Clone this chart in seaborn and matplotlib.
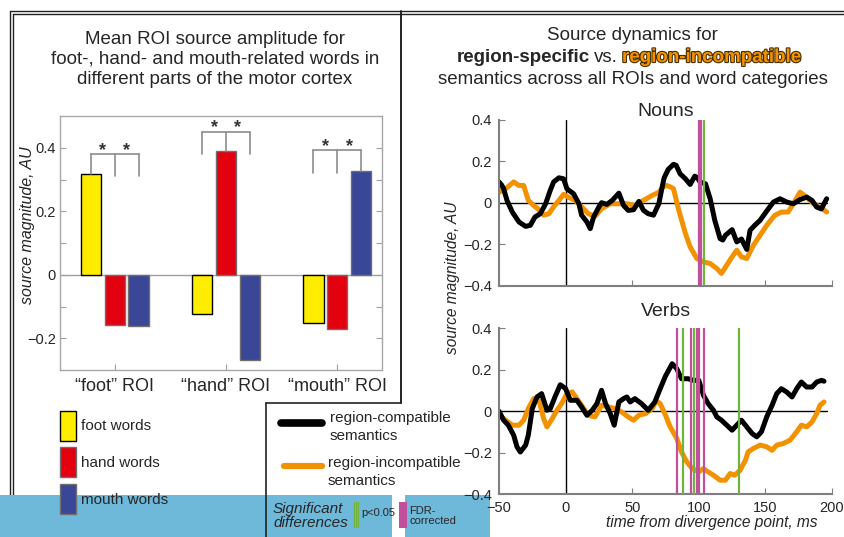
import numpy as np
import pandas as pd
import matplotlib
matplotlib.use('Agg')
import matplotlib.pyplot as plt
import matplotlib.patheffects as pe
from matplotlib.lines import Line2D
from matplotlib.patches import Patch, Rectangle
import seaborn as sns

W, H = 844, 537

# left panel: mean ROI source amplitude
rois = ['\u201cfoot\u201d ROI', '\u201chand\u201d ROI', '\u201cmouth\u201d ROI']
word_types = ['foot words', 'hand words', 'mouth words']
foot_words = [0.318, -0.123, -0.153]
hand_words = [-0.158, 0.390, -0.171]
mouth_words = [-0.160, -0.268, 0.327]
bracket_top = [0.380, 0.450, 0.392]
bar_colors = ['#FFED00', '#E3000F', '#3A4696']

# right panel: nouns
nouns_t_compat = [-50, -48, -46.5, -44, -40, -35, -30, -26.5, -23, -19, -15, -11.5, -9, -5, -1.5,
                  1, 6, 10, 12, 16, 18.5, 21, 25, 27, 31, 35, 40, 43.5, 47, 51, 55, 58.5, 62, 66,
                  70, 72, 74, 77, 81, 83, 86, 90, 93.5, 97, 99, 101, 105, 108.5, 112, 116, 118,
                  120, 125, 128.5, 132, 136, 138.5, 142, 146, 151, 156, 161, 166, 171, 176, 181,
                  185, 188.5, 192, 196]
nouns_compat = [0.10, 0.085, 0.067, 0.011, -0.045, -0.093, -0.114, -0.109, -0.069, -0.053, -0.005,
                0.06, 0.10, 0.12, 0.115, 0.067, 0.043, -0.005, -0.06, -0.093, -0.125, -0.069,
                -0.02, 0.0, -0.008, 0.011, 0.046, -0.013, -0.037, -0.034, 0.006, -0.037, -0.053,
                -0.06, -0.005, 0.06, 0.12, 0.16, 0.185, 0.18, 0.139, 0.115, 0.088, 0.128, 0.12,
                0.10, 0.091, 0.02, -0.085, -0.173, -0.18, -0.157, -0.13, -0.189, -0.175, -0.225,
                -0.133, -0.109, -0.085, -0.04, 0.003, 0.019, 0.003, -0.005, 0.015, 0.027, 0.011,
                -0.021, -0.03, 0.019]
nouns_t_incomp = [-50, -45, -39, -35, -31.5, -28, -24, -20, -16.5, -12.5, -9, -5, -1.5, 2, 7, 12,
                  17, 22, 27, 33.5, 40, 46, 52, 58.5, 65, 70, 73, 76, 79, 81, 85, 90, 93.5, 98.5,
                  103.5, 108.5, 113.5, 117, 121, 125, 128.5, 132, 136, 141, 146, 151, 157, 162,
                  167, 171, 176, 181, 186, 191, 196]
nouns_incomp = [0.05, 0.067, 0.10, 0.083, 0.083, 0.011, -0.013, -0.034, -0.06, -0.053, -0.02,
                0.011, 0.04, 0.027, 0.011, -0.02, -0.053, -0.066, -0.029, -0.005, -0.005, -0.005,
                -0.013, 0.011, 0.035, 0.05, 0.075, 0.083, 0.075, 0.067, -0.037, -0.149, -0.213,
                -0.269, -0.285, -0.293, -0.317, -0.341, -0.301, -0.261, -0.229, -0.261, -0.269,
                -0.205, -0.157, -0.109, -0.061, -0.045, -0.045, -0.005, 0.051, 0.027, -0.005,
                -0.021, -0.045]
nouns_p05 = [103.6]
nouns_fdr = [100.0, 101.8]

# right panel: verbs
verbs_t_compat = [-50, -46.5, -43, -39, -36.5, -34, -30, -28, -25, -21.5, -18, -14, -11.5, -8, -4,
                  0, 3.5, 8.5, 12, 16, 20, 23.5, 27, 30, 33.5, 36.5, 40, 43.5, 46, 48.5, 52, 57,
                  62, 67, 71, 75, 80, 83.5, 87, 92, 96, 100, 103.5, 107, 111, 113.5, 117, 121,
                  125, 128.5, 132, 136, 140, 143.5, 147, 151, 155, 158.5, 162, 166, 170, 173.5,
                  177, 181, 185, 188.5, 192, 194]
verbs_compat = [0.0, -0.043, -0.067, -0.115, -0.171, -0.196, -0.163, -0.115, 0.013, 0.069, 0.085,
                0.005, 0.013, 0.069, 0.128, 0.109, 0.053, 0.053, 0.021, -0.019, 0.005, 0.037,
                0.101, 0.037, -0.011, -0.067, 0.045, 0.061, 0.069, 0.045, 0.061, 0.037, 0.005,
                0.045, 0.109, 0.17, 0.229, 0.205, 0.157, 0.157, 0.149, 0.149, 0.077, 0.037, 0.005,
                -0.027, -0.043, -0.067, -0.091, -0.067, -0.043, -0.075, -0.107, -0.123, -0.099,
                -0.027, 0.029, 0.085, 0.109, 0.093, 0.069, 0.109, 0.141, 0.117, 0.117, 0.141,
                0.149, 0.145]
verbs_t_incomp = [-50, -45, -40, -35, -31.5, -28, -24, -20, -16.5, -14, -10, -6.5, -3, 1, 5, 8.5,
                  12, 17, 22, 27, 32, 37, 42, 47, 51, 55, 60, 65, 68, 71, 75, 78.5, 83.5, 87, 91,
                  95, 100, 103.5, 107, 111, 116, 120, 123.5, 127, 131, 135, 137, 141, 146, 151,
                  155, 158.5, 163.5, 168.5, 173.5, 177, 181, 185, 188.5, 191, 194]
verbs_incomp = [-0.019, -0.043, -0.067, -0.067, -0.043, 0.013, 0.061, 0.053, -0.035, -0.075,
                -0.035, 0.005, 0.037, 0.085, 0.093, 0.061, 0.029, -0.019, -0.027, 0.029, 0.021,
                0.013, -0.003, -0.027, -0.043, -0.019, -0.011, 0.013, 0.05, 0.037, -0.019, -0.075,
                -0.131, -0.196, -0.244, -0.276, -0.292, -0.276, -0.292, -0.308, -0.332, -0.332,
                -0.300, -0.308, -0.284, -0.236, -0.196, -0.179, -0.163, -0.171, -0.188, -0.163,
                -0.155, -0.139, -0.099, -0.067, -0.075, -0.051, -0.011, 0.029, 0.045]
verbs_p05 = [88, 96.5, 130]
verbs_fdr = [84, 94.3, 98.5, 100.5, 103.8]

orange = '#F39200'
magenta = '#C1509C'
green = '#72B33F'
band = '#6EB8D9'

sns.set_style('white')
plt.rcParams['font.family'] = ['Liberation Sans', 'DejaVu Sans']


def fx(px):
    return px / W


def fy(py):
    return 1 - py / H


fig = plt.figure(figsize=(W / 100, H / 100), dpi=100)

# ---------------- bar chart ----------------
ax_bar = fig.add_axes([fx(60), fy(370), 322 / W, 254 / H])
vals = [foot_words, hand_words, mouth_words]
bars = pd.DataFrame({
    'roi': [r for w in word_types for r in rois],
    'words': [w for w in word_types for r in rois],
    'value': [v for row in vals for v in row],
})
sns.barplot(data=bars, x='roi', y='value', hue='words', hue_order=word_types,
            palette=bar_colors, saturation=1, width=0.645, gap=0.16,
            edgecolor='#6f6f6f', linewidth=1, legend=False, ax=ax_bar)
for bar in ax_bar.containers[0]:
    bar.set_edgecolor('black')

ax_bar.axhline(0, color='#a0a0a0', lw=1, zorder=0.5)
gray = '#8c8c8c'
offs = [-0.215, 0.0, 0.215]
for i, top in enumerate(bracket_top):
    xs = [i + o for o in offs]
    ax_bar.plot([xs[0], xs[2]], [top, top], color=gray, lw=1.2)
    for j, x in enumerate(xs):
        low = vals[j][i] if j == i else top - 0.07
        ax_bar.plot([x, x], [low, top], color=gray, lw=1.2)
    for a, b in zip(xs[:-1], xs[1:]):
        ax_bar.text((a + b) / 2, top - 0.002, '*', ha='center', va='baseline',
                    fontsize=13, fontweight='bold', color='#333333')

ax_bar.set_xlim(-0.49, 2.4)
ax_bar.set_ylim(-0.3, 0.5)
ax_bar.set_yticks([-0.2, -0.1, 0, 0.1, 0.2, 0.3, 0.4],
                  ['\u22120.2', '', '0', '', '0.2', '', '0.4'])
ax_bar.tick_params(axis='y', direction='in', left=True, right=True, length=4,
                   color='#a0a0a0', labelsize=10.5, pad=3)
ax_bar.tick_params(axis='x', direction='in', bottom=True, length=4, color='#a0a0a0',
                   labelsize=13, pad=6)
for s in ax_bar.spines.values():
    s.set_color('#a8a8a8')
    s.set_linewidth(1)
ax_bar.set_xlabel('')
ax_bar.set_ylabel('source magnitude, AU', style='italic', fontsize=11.5)
ax_bar.yaxis.set_label_coords(-0.077, 0.57)

# ---------------- source dynamics ----------------
panels = [
    ('Nouns', 285.7, nouns_t_compat, nouns_compat, nouns_t_incomp, nouns_incomp,
     nouns_p05, nouns_fdr, 3),
    ('Verbs', 494.3, verbs_t_compat, verbs_compat, verbs_t_incomp, verbs_incomp,
     verbs_p05, verbs_fdr, 9),
]
for k, (name, bottom, tc, vc, ti, vi, p05, fdr, tpad) in enumerate(panels):
    ax = fig.add_axes([fx(499), fy(bottom), 333 / W, 166 / H])
    ax.set_facecolor('none')
    df = pd.DataFrame({
        'time': list(ti) + list(tc),
        'value': list(vi) + list(vc),
        'cond': ['incompatible'] * len(ti) + ['compatible'] * len(tc),
    })
    ax.axhline(0, xmax=246 / 250, color='black', lw=1, zorder=1)
    ax.axvline(0, color='black', lw=1, zorder=1)
    sns.lineplot(data=df, x='time', y='value', hue='cond',
                 hue_order=['incompatible', 'compatible'],
                 palette={'incompatible': orange, 'compatible': 'black'},
                 estimator=None, lw=3.6, legend=False, ax=ax)
    ax.vlines(fdr, -0.4, 0.4, color=magenta, lw=1.6, zorder=3)
    ax.vlines(p05, -0.4, 0.4, color=green, lw=1.6, zorder=3)
    ax.set_xlim(-50, 200)
    ax.set_ylim(-0.4, 0.4)
    ax.set_yticks([-0.4, -0.2, 0, 0.2, 0.4],
                  ['\u22120.4', '\u22120.2', '0', '0.2', '0.4'])
    ax.set_xticks([-50, 0, 50, 100, 150, 200])
    if k == 0:
        ax.set_xticklabels([])
    else:
        ax.set_xticklabels(['\u221250', '0', '50', '100', '150', '200'])
    ax.tick_params(direction='in', length=4, color='#7f7f7f', labelsize=10.5, pad=5)
    ax.tick_params(axis='y', left=True)
    ax.tick_params(axis='x', bottom=True)
    for side in ['top', 'right']:
        ax.spines[side].set_visible(False)
    for side in ['left', 'bottom']:
        ax.spines[side].set_color('#7f7f7f')
        ax.spines[side].set_linewidth(1.5)
    ax.set_xlabel('')
    ax.set_ylabel('')
    ax.set_title(name, fontsize=14, pad=tpad)

fig.text(fx(453), fy(278), 'source magnitude, AU', rotation=90, style='italic',
         fontsize=11.2, ha='center', va='center')
fig.text(fx(712), fy(523), 'time from divergence point, ms', style='italic',
         fontsize=11.2, ha='center', va='center')

# ---------------- titles ----------------
fig.text(fx(215), fy(31), 'Mean ROI source amplitude for\nfoot-, hand- and mouth-related words in\n'
         'different parts of the motor cortex', ha='center', va='top', fontsize=13.5,
         linespacing=1.22)
fig.text(fx(632), fy(39.5), 'Source dynamics for', ha='center', va='baseline', fontsize=13.5)
fig.text(fx(457), fy(62), 'region-specific', ha='left', va='baseline', fontsize=13.5,
         fontweight='bold')
fig.text(fx(594), fy(62), 'vs.', ha='left', va='baseline', fontsize=13.5)
fig.text(fx(622), fy(62), 'region-incompatible', ha='left', va='baseline', fontsize=13.5,
         fontweight='bold', color=orange,
         path_effects=[pe.Stroke(linewidth=1.6, foreground='#4a3000'), pe.Normal()])
fig.text(fx(633), fy(84), 'semantics across all ROIs and word categories', ha='center',
         va='baseline', fontsize=13.5)

# ---------------- legends ----------------
handles = [Patch(facecolor=c, edgecolor=e) for c, e in
           zip(bar_colors, ['black', '#6f6f6f', '#6f6f6f'])]
fig.legend(handles, word_types, loc='upper left', bbox_to_anchor=(fx(60), fy(410.5)),
           frameon=False, fontsize=11, handlelength=1.05, handleheight=2.65,
           labelspacing=0.45, handletextpad=0.3, borderpad=0, borderaxespad=0)

fig.add_artist(Line2D([fx(281), fx(322)], [fy(423), fy(423)], color='black', lw=5.5,
                      solid_capstyle='round'))
fig.add_artist(Line2D([fx(284), fx(322)], [fy(466), fy(466)], color=orange, lw=4.5,
                      solid_capstyle='round'))
fig.text(fx(330), fy(427), 'region-compatible\nsemantics', fontsize=11, va='center',
         linespacing=1.3)
fig.text(fx(328), fy(472), 'region-incompatible\nsemantics', fontsize=11, va='center',
         linespacing=1.3)

# background band, frames
fig.add_artist(Rectangle((0, 0), fx(392), 42 / H, transform=fig.transFigure,
                         facecolor=band, edgecolor='none', zorder=-1))
fig.add_artist(Rectangle((fx(405), 0), 85 / W, 42 / H, transform=fig.transFigure,
                         facecolor=band, edgecolor='none', zorder=-1))
frame = dict(color='#222222', lw=1.0)
fig.add_artist(Line2D([fx(10), 1], [fy(11), fy(11)], **frame))
fig.add_artist(Line2D([fx(13.3), 1], [fy(14.3), fy(14.3)], **frame))
fig.add_artist(Line2D([fx(10), fx(10)], [fy(11), 0], **frame, zorder=-2))
fig.add_artist(Line2D([fx(13.3), fx(13.3)], [fy(14.3), 0], **frame, zorder=-2))
fig.add_artist(Line2D([fx(400.5), fx(400.5)], [fy(11), fy(402.5)], color='#222222', lw=1.4))
fig.add_artist(Line2D([fx(265.5), fx(400.5)], [fy(402.5), fy(402.5)], color='#222222', lw=1.2))
fig.add_artist(Line2D([fx(265.5), fx(265.5)], [fy(402.5), 0], color='#222222', lw=1.2))

fig.text(fx(273), fy(513), 'Significant', style='italic', fontsize=11, va='baseline')
fig.text(fx(273), fy(527), 'differences', style='italic', fontsize=11, va='baseline')
for px in [353.6, 355.8, 358.0]:
    fig.add_artist(Line2D([fx(px), fx(px)], [fy(502), fy(527)], color=green, lw=0.9))
fig.text(fx(361), fy(513), 'p<0.05', fontsize=8, va='center')
fig.add_artist(Rectangle((fx(399.3), fy(528)), 7.4 / W, 26 / H, transform=fig.transFigure,
                         facecolor=magenta, edgecolor='none'))
fig.text(fx(409.5), fy(514.5), 'FDR-', fontsize=8, va='baseline')
fig.text(fx(409.5), fy(523.5), 'corrected', fontsize=8, va='baseline')

fig.savefig('out.png', dpi=100)
